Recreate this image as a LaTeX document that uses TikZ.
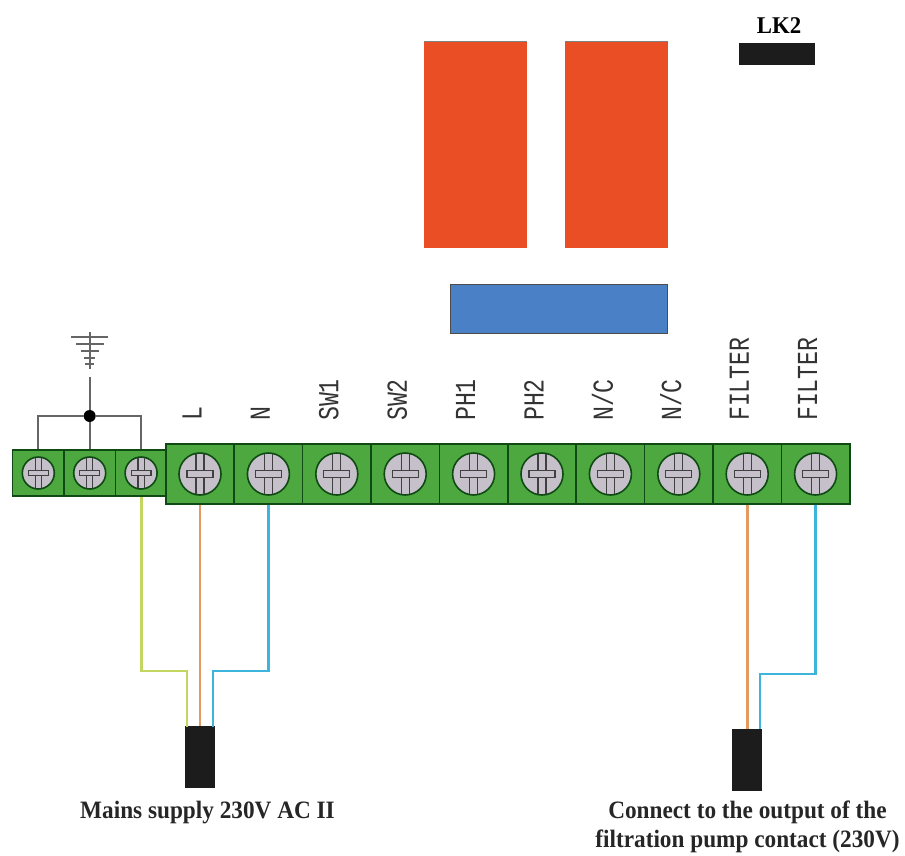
\documentclass[tikz,border=0pt]{standalone}
\usepackage{fontspec}
\setmainfont{Liberation Serif}
\newfontfamily\labelfont{Liberation Mono}
\usetikzlibrary{positioning}
\definecolor{blockgreen}{HTML}{4DA93F}
\definecolor{edgegreen}{HTML}{0F4A14}
\definecolor{screwgray}{HTML}{C6C0CA}
\definecolor{relayred}{HTML}{E94E24}
\definecolor{relayblue}{HTML}{4A80C5}
\definecolor{wirered}{HTML}{E39B62}
\definecolor{wireblue}{HTML}{3DB4DC}
\definecolor{wireyellow}{HTML}{C3D65F}
\definecolor{plugblack}{HTML}{1C1C1C}
\tikzset{
  block/.style={draw=edgegreen, line width=1.5pt, fill=blockgreen, inner sep=0pt},
  smallblock/.style={block, minimum width=51.4pt, minimum height=46pt},
  bigblock/.style={block, minimum width=68.4pt, minimum height=60pt},
  relay/.style={fill=relayred, inner sep=0pt, minimum width=103pt, minimum height=206pt},
  plug/.style={fill=plugblack, inner sep=0pt, minimum width=30pt, minimum height=62pt},
  pin/.style={rotate=90, anchor=west, inner sep=0pt, xscale=.8, font=\labelfont\fontsize{29}{29}\selectfont, text=black!80},
  caption/.style={font=\bfseries\fontsize{25}{25}\selectfont, inner sep=0pt, xscale=.93, text=black!85},
  wire/.style={line width=2.8pt},
  earth/.style={draw=black!60, line width=2pt}
}
\newcommand\screw[2]{% centre, radius
  \draw[edgegreen, line width=1.6pt, fill=screwgray] (#1) circle (#2pt);
  \begin{scope}[shift={(#1)}, scale=#2/21]
    \draw[black!75, line width=1.2pt] (-4,-20) -- (-4,20) (4,-20) -- (4,20);
    \draw[black!75, line width=1.1pt, fill=screwgray] (-13,-3.5) rectangle (13,3.5);
  \end{scope}
}
\begin{document}
\begin{tikzpicture}[x=1pt, y=-1pt]
  \useasboundingbox (0, 0) rectangle (905, 855);

  % relays and link
  \node[relay] (relayA) at (475.5, 145) {};
  \node[relay] (relayB) at (616.5, 145) {};
  \draw[gray, line width=1.2pt] (relayA.north west) -- (relayA.north east);
  \draw[gray, line width=1.2pt] (relayB.north west) -- (relayB.north east);
  \node[draw=black!70, line width=1pt, fill=relayblue, inner sep=0pt, minimum width=217pt, minimum height=49pt]
    (fuse) at (558.5, 308.5) {};
  \node[fill=plugblack, inner sep=0pt, minimum width=76pt, minimum height=22pt] (link) at (777, 54) {};
  \node[font=\bfseries\fontsize{24}{24}\selectfont, xscale=.95, inner sep=0pt] (linklabel) at (779, 26) {LK2};

  % earth terminals
  \foreach \i/\x in {1/38.3, 2/89.7, 3/141.1} {
    \node[smallblock] (e\i) at (\x, 473) {};
    \screw{e\i}{16}
  }

  % main terminals
  \foreach \i/\x/\txt in {1/200/L, 2/268.4/N, 3/336.8/SW1, 4/405.2/SW2, 5/473.6/PH1,
      6/542/PH2, 7/610.4/{N/C}, 8/678.8/{N/C}, 9/747.2/FILTER, 10/815.6/FILTER} {
    \node[bigblock] (t\i) at (\x, 474) {};
    \screw{t\i}{21}
    \node[pin] (p\i) at (\x-8, 421) {\txt};
  }

  % earth symbol
  \node[circle, fill=black, inner sep=0pt, minimum size=12pt] (dot) at (89.7, 416) {};
  \coordinate (gndtop) at (89.7, 332);
  \coordinate (gndlow) at (89.7, 369);
  \coordinate (gndwire) at (89.7, 377);
  \draw[earth] (gndwire) -- (dot);
  \draw[earth] (dot) -- (e2.north);
  \draw[earth] (dot) -| (e1.north);
  \draw[earth] (dot) -| (e3.north);
  \draw[earth] (gndtop) -- (gndlow);
  \draw[earth] (71, 337) -- (108, 337) (76, 344) -- (104, 344) (81, 351) -- (99, 351)
    (84, 358) -- (95, 358) (85, 364) -- (94, 364);

  % plugs
  \node[plug] (plugA) at (200, 757) {};
  \node[plug] (plugB) at (747.2, 760) {};
  \coordinate (plugAl) at (187, 727);
  \coordinate (plugAr) at (213, 727);
  \coordinate (plugBr) at (760, 729);

  % wires
  \draw[wire, wireyellow] (e3.south) |- (187, 671) -- (plugAl);
  \draw[wire, wirered] (t1.south) -- (plugA.north);
  \draw[wire, wireblue] (t2.south) |- (213, 671) -- (plugAr);
  \draw[wire, wirered] (t9.south) -- (plugB.north);
  \draw[wire, wireblue] (t10.south) |- (760, 674) -- (plugBr);

  % captions
  \node[caption] (mains) at (207.5, 813) {Mains supply 230V AC II};
  \node[caption] (pumpA) at (747.5, 812) {Connect to the output of the};
  \node[caption] (pumpB) at (747.5, 841) {filtration pump contact (230V)};
\end{tikzpicture}
\end{document}
